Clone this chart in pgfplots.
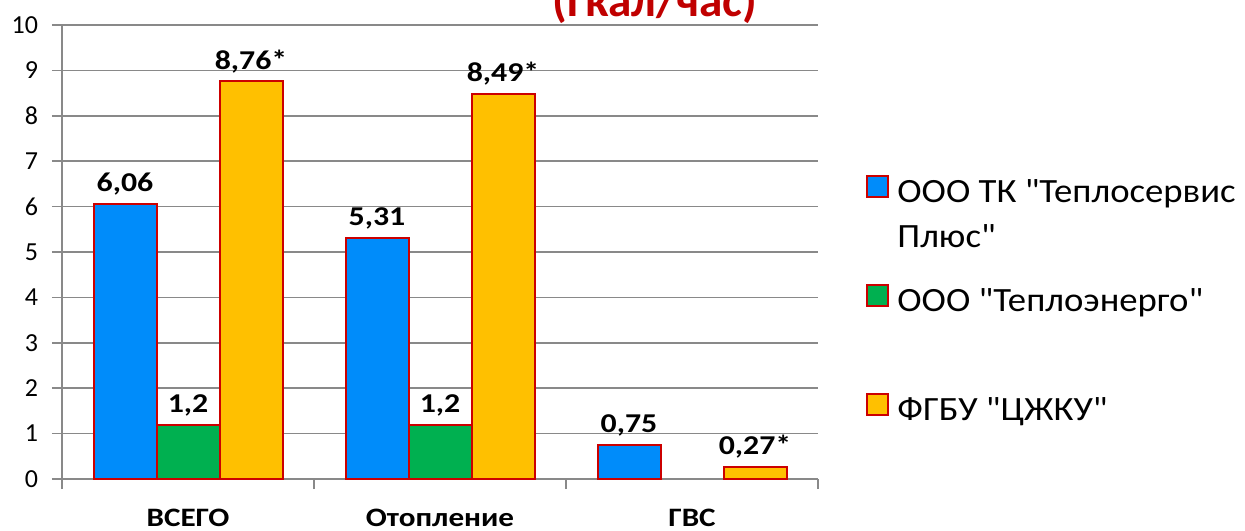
\documentclass[border=0pt]{standalone}
\usepackage{fontspec}
\setmainfont{Carlito}[Ligatures=TeXOff]
\usepackage{graphicx}
\usepackage{pgfplots}
\pgfplotsset{compat=1.18}
\definecolor{barblue}{RGB}{0,140,250}
\definecolor{bargreen}{RGB}{0,176,80}
\definecolor{baryellow}{RGB}{255,192,0}
\definecolor{barred}{RGB}{204,0,0}
\definecolor{titlered}{RGB}{192,0,0}
\definecolor{gridgray}{RGB}{137,137,137}
\pgfplotsset{sq/.style={legend image code/.code={\draw[##1,line width=1pt] (0pt,-2.75pt) rectangle (10.5pt,7.75pt);}}}
\newcommand{\legtxt}[1]{\raisebox{0pt}[12pt][0pt]{\scalebox{1.08}[1]{#1}}}
\newcommand{\wx}[1]{\scalebox{1.17}[1]{#1}}
\begin{document}
\begin{tikzpicture}
\begin{axis}[
  at={(0,0)}, anchor=south west,
  scale only axis, width=378pt, height=227pt,
  xmin=-0.5, xmax=2.5, ymin=0, ymax=10,
  ybar=0pt, bar width=0.25,
  xtick={0,1,2}, xticklabels={\wx{ВСЕГО},\wx{Отопление},\wx{ГВС}},
  minor xtick={-0.5,0.5,1.5,2.5},
  major x tick style={draw=none},
  ytick={0,1,...,10},
  tick align=outside, major tick length=5pt, minor tick length=5pt,
  axis x line*=bottom, axis y line*=left,
  axis line style={-, gridgray, line width=0.75pt},
  tick style={gridgray, line width=0.75pt},
  ymajorgrids, major grid style={gridgray, line width=0.75pt},
  /pgf/number format/assume math mode=true,
  yticklabel style={font=\fontsize{13}{15}\selectfont, xshift=-3.5pt},
  xticklabel style={font=\bfseries\fontsize{13.3}{16}\selectfont, anchor=base, yshift=-18.5pt},
  nodes near coords={\wx{\pgfplotspointmeta}}, point meta=explicit symbolic,
  every node near coord/.append style={font=\bfseries\fontsize{13.6}{16}\selectfont, text=black, anchor=base, yshift=6pt},
  legend style={draw=none, fill=none, at={(1.0635,0.67)}, anchor=north west, inner sep=0pt,
    row sep=38.5pt, column sep=3pt, nodes={inner sep=1pt}, font=\fontsize{17}{22.5}\selectfont},
  legend cell align=left,
]
\addplot[fill=barblue, draw=barred, line width=1pt, sq] coordinates {(0,6.06) [6,06] (1,5.31) [5,31] (2,0.75) [0,75]};
\addplot[fill=bargreen, draw=barred, line width=1pt, sq] coordinates {(0,1.2) [1,2] (1,1.2) [1,2]};
\addplot[fill=baryellow, draw=barred, line width=1pt, sq] coordinates {(0,8.76) [8,76*] (1,8.49) [8,49*] (2,0.27) [0,27*]};
\legend{\legtxt{\parbox[t]{220pt}{ООО ТК "Теплосервис\\Плюс"}},\legtxt{ООО "Теплоэнерго"},\legtxt{ФГБУ "ЦЖКУ"}}
\end{axis}
\node[font=\bfseries\fontsize{23.6}{28}\selectfont, text=titlered, anchor=base] at (296.5pt,231pt) {(Гкал/час)};
\pgfresetboundingbox
\useasboundingbox (-31pt,-25.5pt) rectangle (591.5pt,239.5pt);
\end{tikzpicture}
\end{document}
